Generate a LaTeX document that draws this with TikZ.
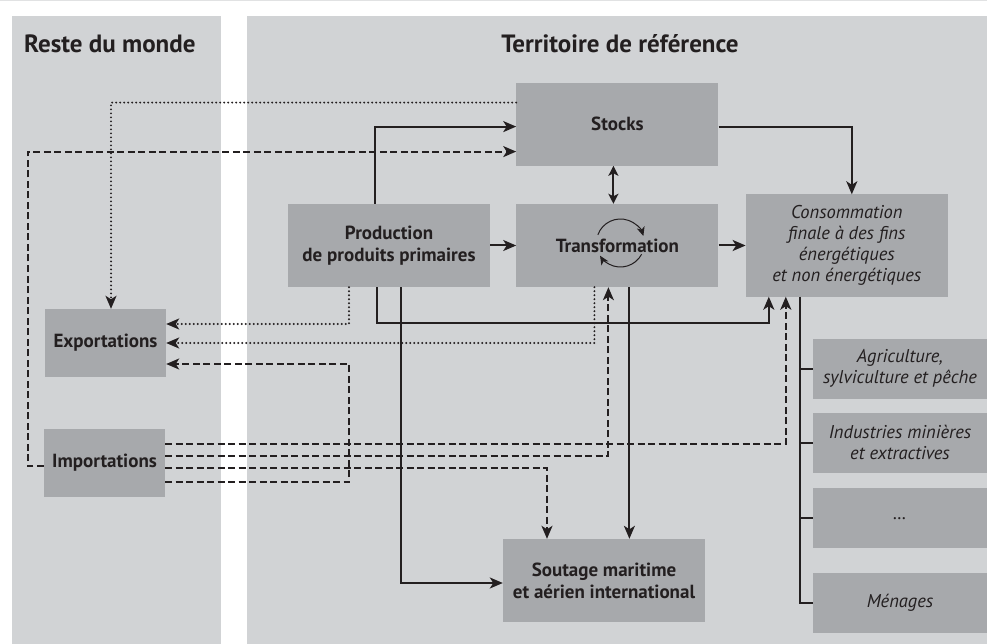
\documentclass[tikz,border=0pt]{standalone}
\usepackage{fontspec}
\setmainfont{PT Sans}
\usetikzlibrary{arrows.meta,positioning}
\definecolor{panel}{HTML}{D1D3D5}
\definecolor{boxgray}{HTML}{A7A9AC}
\definecolor{ink}{HTML}{231F20}
\definecolor{rulegray}{HTML}{E1E2E3}
\begin{document}
\begin{tikzpicture}[x=1pt,y=-1pt,
    box/.style={fill=boxgray, text=ink, align=center, inner sep=0pt,
      minimum width=202pt, minimum height=83pt,
      font=\fontsize{19}{22}\selectfont\bfseries},
    ibox/.style={box, font=\fontsize{18.5}{21}\selectfont\itshape},
    side/.style={ibox, minimum width=174pt, minimum height=60pt},
    title/.style={text=ink, inner sep=0pt, font=\fontsize{25}{29}\selectfont\bfseries},
    flow/.style={draw=ink, line width=2pt, -{Stealth[length=13pt,width=11pt,inset=3.5pt]}},
    imp/.style={flow, dash pattern=on 7pt off 3.5pt},
    exp/.style={flow, line width=2.2pt, line cap=round, dash pattern=on 0pt off 4pt},
    cyc/.style={draw=ink, line width=1pt, -{Stealth[length=9pt,width=8pt,inset=2.5pt]}}]
    \useasboundingbox (0,0) rectangle (987,644);
    \fill[rulegray] (0,0) rectangle (987,1.5);
    \fill[panel] (12,16) rectangle (221,644);
    \fill[panel] (247,16) rectangle (987,644);
    \node[title, anchor=base west] (RM) at (24,53) {Reste du monde};
    \node[title, anchor=base] (TR) at (620,53) {Territoire de référence};

    \node[box] (Pr) at (389,245.5) {Production\\de produits primaires};
    \node[box, right=26pt of Pr] (Tr) {Transformation};
    \node[box, above=38pt of Tr] (St) {Stocks};
    \node[ibox, minimum height=102pt, right=27pt of Tr] (Co)
      {Consommation\\finale à des fins\\énergétiques\\et non énergétiques};
    \node[box, minimum width=121pt, minimum height=68pt] (Ex) at (105.5,343) {Exportations};
    \node[box, minimum width=121pt, minimum height=68pt] (Im) at (104.5,463) {Importations};
    \node[box] (So) at (604,580.5) {Soutage maritime\\et aérien international};
    \node[side] (Ag) at (900,368.5) {Agriculture,\\sylviculture et pêche};
    \node[side, below=14pt of Ag] (In) {Industries minières\\et extractives};
    \node[side, below=15pt of In] (Dt) {…};
    \node[side, below=24pt of Dt] (Me) {Ménages};

    \draw[cyc] ([shift={(3,-2.5)}]Tr.center) ++(160:24pt) arc[start angle=160, end angle=17, radius=24pt];
    \draw[cyc] ([shift={(3,-2.5)}]Tr.center) ++(-28:24pt) arc[start angle=-28, end angle=-148, radius=24pt];

    \draw[flow] ([xshift=-14pt]Pr.north) |- ([yshift=-2.5pt]St.west);
    \draw[flow] ([yshift=-2.5pt]St.east) -| ([xshift=5pt]Co.north);
    \draw[flow, {Stealth[length=10pt,width=10pt,inset=2.5pt]}-{Stealth[length=10pt,width=10pt,inset=2.5pt]}]
      ([xshift=-4pt]St.south) to ([xshift=-4pt]Tr.north);
    \draw[flow] (Pr.east) to (Tr.west);
    \draw[flow] (Tr.east) to (Tr.east -| Co.west);
    \draw[flow] ([xshift=-12pt]Pr.south) -- ++(0,36) -| ([xshift=-78pt]Co.south);
    \draw[flow] ([xshift=12pt]Pr.south) |- ([yshift=-2.5pt]So.west);
    \draw[flow] ([xshift=12pt]Tr.south) to ([xshift=12pt]Tr.south |- So.north);
    \coordinate (br) at ([xshift=-47pt]Co.south);
    \draw[flow, -] (br) |- (Me.west);
    \foreach \s in {Ag,In,Dt}
      \draw[flow, -] (br |- \s.west) to (\s.west);

    \draw[exp] ([yshift=21.5pt]St.west) -| ([xshift=5.5pt]Ex.north);
    \draw[exp] ([xshift=-40pt]Pr.south) |- ([yshift=19pt]Ex.east);
    \draw[exp] ([xshift=-23pt]Tr.south) |- (Ex.east);

    \draw[imp] ([yshift=-3pt]Im.west) -- ++(-16,0) |- ([yshift=-27.5pt]St.west);
    \draw[imp] ([yshift=19pt]Im.east) -| ([xshift=-61pt]Co.south);
    \draw[imp] ([yshift=7pt]Im.east) -| ([xshift=-9pt]Tr.south);
    \draw[imp] ([yshift=-5pt]Im.east) -| ([xshift=-57pt]So.north);
    \draw[imp] ([yshift=-19pt]Im.east) -- ++(184,0) |- ([yshift=-21pt]Ex.east);
\end{tikzpicture}
\end{document}
